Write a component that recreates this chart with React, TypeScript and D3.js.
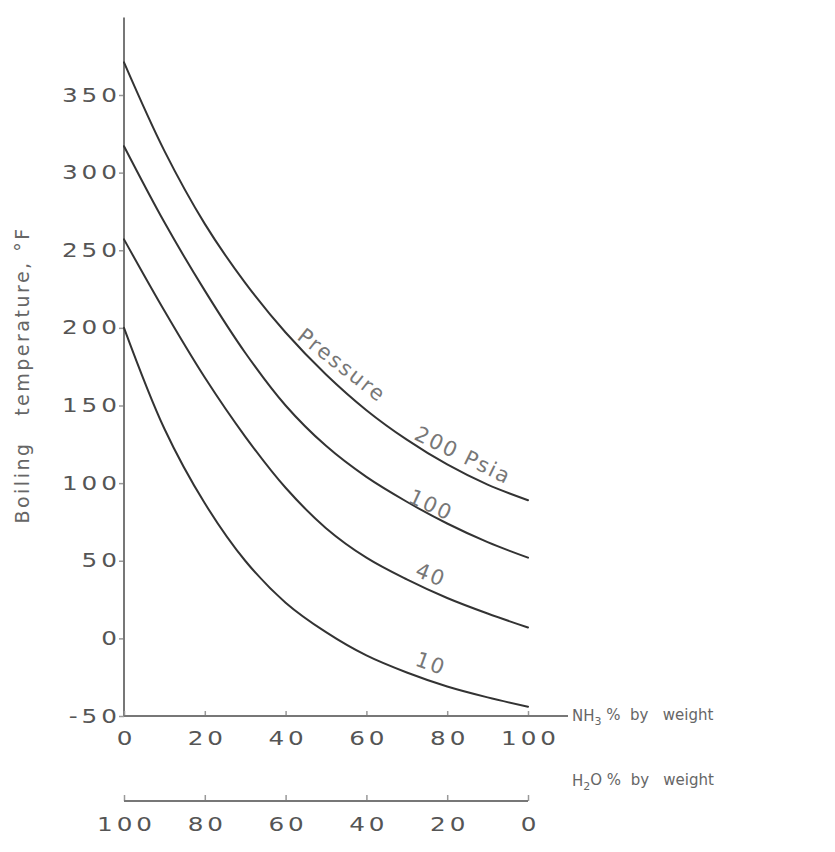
import { useEffect, useRef } from 'react'
import * as d3 from 'd3'

// NH3 % by weight (x) and boiling temperature in °F for each pressure
const nh3 = [0, 10, 20, 30, 40, 50, 60, 70, 80, 90, 100]
const t200 = [371, 314, 267, 229, 197, 170, 147, 128, 112, 99, 89]
const t100 = [317, 268, 224, 184, 150, 124, 104, 88, 74, 62, 52]
const t40 = [257, 211, 168, 130, 97, 71, 52, 38, 26, 16, 7]
const t10 = [200, 135, 87, 50, 23, 4, -11, -22, -31, -38, -44]

const yTicks = [-50, 0, 50, 100, 150, 200, 250, 300, 350]
const xTicks = [0, 20, 40, 60, 80, 100]
const h2oTicks = [100, 80, 60, 40, 20, 0]

export default function App() {
  const svgRef = useRef<SVGSVGElement>(null)

  useEffect(() => {
    const svg = d3.select(svgRef.current)
    svg.selectAll('*').remove()

    const font = '"DejaVu Sans", sans-serif'
    const stretch = 1.3 // the scanned digits are wide
    const x = d3.scaleLinear().domain([0, 100]).range([124, 528])
    const x2 = d3.scaleLinear().domain([100, 0]).range([124, 528])
    const y = d3.scaleLinear().domain([-50, 350]).range([716, 95])

    const styleTicks = (g: any) => {
      g.selectAll('.tick line').attr('stroke', '#999').attr('stroke-width', 1.5)
      g.selectAll('.tick text')
        .style('font-family', font).style('font-size', '19px')
        .style('letter-spacing', '3px').attr('fill', '#555')
        .attr('transform', `scale(${stretch},1)`)
    }

    // y axis
    const gy = svg.append('g').attr('transform', `translate(${x(0)},0)`)
      .call(d3.axisLeft(y).tickValues(yTicks).tickSize(5).tickFormat((d) => String(d)))
    gy.select('.domain').remove()
    gy.append('line')
      .attr('y1', y(-50)).attr('y2', y(400))
      .attr('stroke', '#777').attr('stroke-width', 2)
    styleTicks(gy)
    gy.selectAll('.tick text').attr('x', -2.5)

    // NH3 axis
    const gx = svg.append('g').attr('transform', `translate(0,${y(-50)})`)
      .call(d3.axisBottom(x).tickValues(xTicks).tickSize(-5).tickPadding(16))
    gx.select('.domain').remove()
    gx.append('line')
      .attr('x1', x(0)).attr('x2', 568)
      .attr('stroke', '#777').attr('stroke-width', 2)
    styleTicks(gx)
    gx.selectAll('.tick text').attr('dx', 1.5)

    // H2O axis
    const g2 = svg.append('g').attr('transform', 'translate(0,801)')
      .call(d3.axisBottom(x2).tickValues(h2oTicks).tickSize(-6).tickPadding(17))
    g2.select('.domain').remove()
    g2.append('line')
      .attr('x1', x2(100)).attr('x2', x2(0))
      .attr('stroke', '#777').attr('stroke-width', 2)
    styleTicks(g2)
    g2.selectAll('.tick text').attr('dx', 1.5)

    // axis titles
    const nh3Label = svg.append('text')
      .attr('x', 572).attr('y', y(-50)).attr('dy', '0.35em')
      .style('font-family', font).style('font-size', '15px').attr('fill', '#666')
    nh3Label.append('tspan').text('NH')
    nh3Label.append('tspan').attr('dy', '0.35em').style('font-size', '11px').text('3')
    nh3Label.append('tspan').attr('dy', '-0.35em').attr('xml:space', 'preserve').text(' %  by   weight')

    const h2oLabel = svg.append('text')
      .attr('x', 572).attr('y', 781).attr('dy', '0.35em')
      .style('font-family', font).style('font-size', '15px').attr('fill', '#666')
    h2oLabel.append('tspan').text('H')
    h2oLabel.append('tspan').attr('dy', '0.35em').style('font-size', '11px').text('2')
    h2oLabel.append('tspan').attr('dy', '-0.35em').attr('xml:space', 'preserve').text('O %  by   weight')

    svg.append('text')
      .attr('transform', 'translate(22,375) rotate(-90)')
      .attr('text-anchor', 'middle').attr('dy', '0.35em')
      .attr('xml:space', 'preserve')
      .style('font-family', font).style('font-size', '19px')
      .style('letter-spacing', '2.5px').attr('fill', '#666')
      .text('Boiling   temperature, °F')

    // curves
    const line = d3.line<number>()
      .x((_, i) => x(nh3[i]))
      .y((d) => y(d))
      .curve(d3.curveCatmullRom.alpha(0.5))

    ;[t200, t100, t40, t10].forEach((series) => {
      svg.append('path')
        .datum(series)
        .attr('fill', 'none')
        .attr('stroke', '#333')
        .attr('stroke-width', 2)
        .attr('stroke-linecap', 'round')
        .attr('d', line)
    })

    // curve labels
    const labels = [
      { text: 'Pressure', n: 54, t: 176, angle: 38 },
      { text: '200 Psia', n: 84, t: 118, angle: 26 },
      { text: '100', n: 76, t: 86, angle: 25 },
      { text: '40', n: 76, t: 41, angle: 22 },
      { text: '10', n: 76, t: -16, angle: 20 },
    ]
    svg.selectAll('text.curve-label')
      .data(labels)
      .join('text')
      .attr('class', 'curve-label')
      .attr('transform', (d) => `translate(${x(d.n)},${y(d.t)}) rotate(${d.angle})`)
      .attr('text-anchor', 'middle').attr('dy', '0.35em')
      .style('font-family', font).style('font-size', '21px')
      .style('letter-spacing', '2px').attr('fill', '#777')
      .text((d) => d.text)
  }, [])

  return (
    <svg
      ref={svgRef}
      width={835}
      height={852}
      style={{ position: 'absolute', left: 0, top: 0, background: '#fff' }}
    />
  )
}
